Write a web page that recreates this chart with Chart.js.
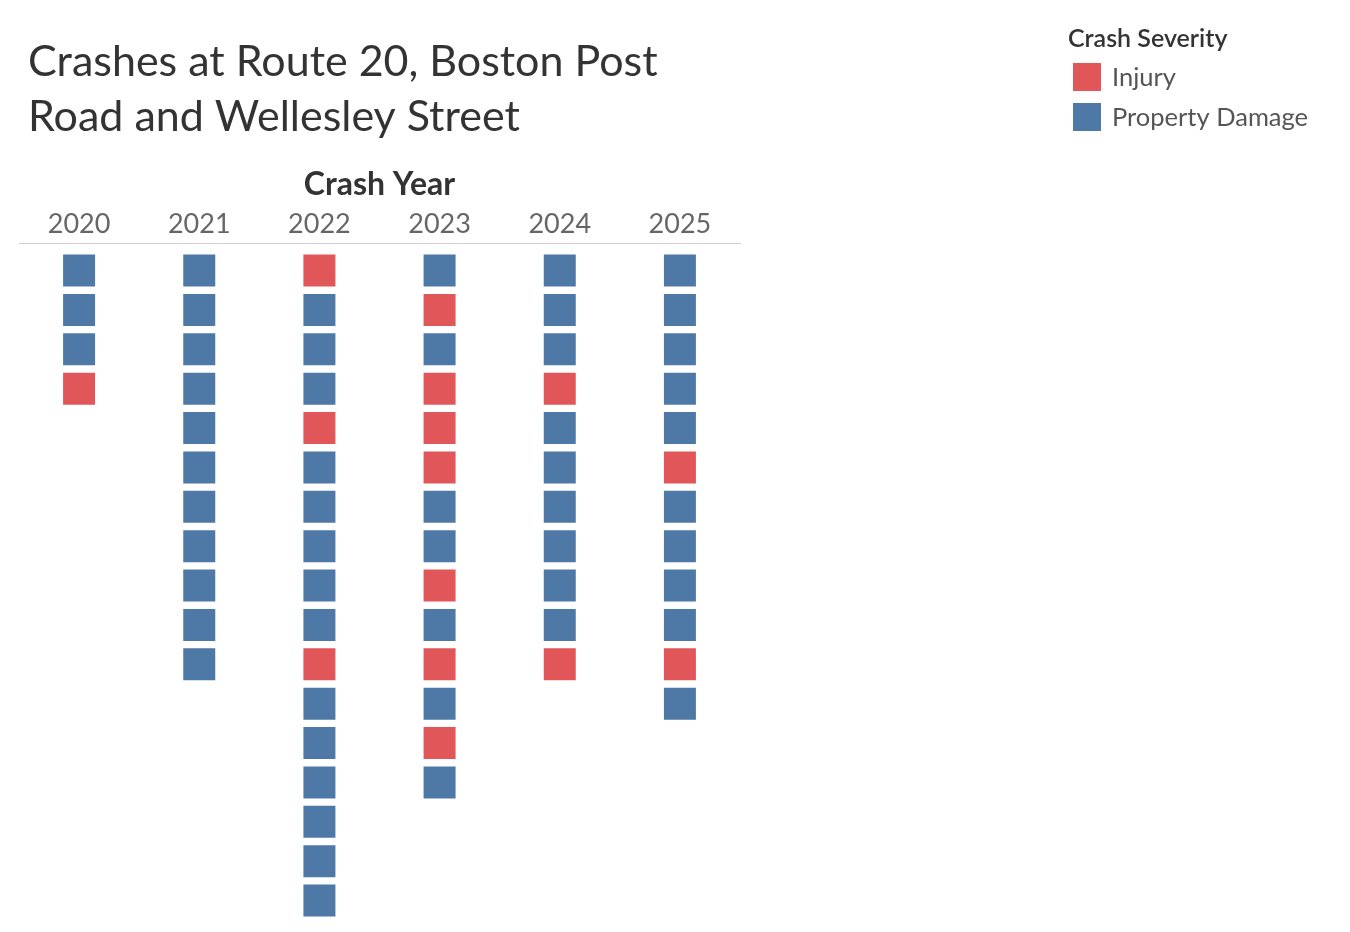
<!DOCTYPE html>
<html>
<head>
<meta charset="utf-8">
<title>Crashes at Route 20, Boston Post Road and Wellesley Street</title>
<script src="https://cdn.jsdelivr.net/npm/chart.js@4.4.1/dist/chart.umd.min.js"></script>
<style>
  html, body { margin: 0; padding: 0; background: #fff; }
  #wrap { position: relative; width: 1350px; height: 932px; }
</style>
</head>
<body>
<div id="wrap"><canvas id="chart"></canvas></div>
<script>
const titleLines = ["Crashes at Route 20, Boston Post", "Road and Wellesley Street"]
const years = ["2020", "2021", "2022", "2023", "2024", "2025"]

// one entry per crash, top to bottom: "I" = Injury, "P" = Property Damage
const crashes2020 = ["P", "P", "P", "I"]
const crashes2021 = ["P", "P", "P", "P", "P", "P", "P", "P", "P", "P", "P"]
const crashes2022 = ["I", "P", "P", "P", "I", "P", "P", "P", "P", "P", "I", "P", "P", "P", "P", "P", "P"]
const crashes2023 = ["P", "I", "P", "I", "I", "I", "P", "P", "I", "P", "I", "P", "I", "P"]
const crashes2024 = ["P", "P", "P", "I", "P", "P", "P", "P", "P", "P", "I"]
const crashes2025 = ["P", "P", "P", "P", "P", "I", "P", "P", "P", "P", "I", "P"]
const crashesByYear = [crashes2020, crashes2021, crashes2022, crashes2023, crashes2024, crashes2025]

const severityCodes = ["I", "P"]
const severityLabels = ["Injury", "Property Damage"]
const legendTitle = "Crash Severity"
const axisTitle = "Crash Year"

const colors = { I: "#e15759", P: "#4e79a7" }
const FONT = "Lato, 'Open Sans', sans-serif"

// a square marker with side 32px: rect point style draws side = radius * sqrt(2)
const squareRadius = 16 * Math.SQRT2

const datasets = severityCodes.map((code, i) => {
  const points = []
  crashesByYear.forEach((list, col) => {
    list.forEach((c, row) => {
      if (c === code) points.push({ x: years[col], y: row })
    })
  })
  return {
    label: severityLabels[i],
    data: points,
    backgroundColor: colors[code],
    borderWidth: 0,
    pointStyle: "rect",
    pointRadius: squareRadius,
    pointHoverRadius: squareRadius,
    pointHitRadius: 4
  }
})

// title and the colour legend, drawn in the free space around the grid
const headerPlugin = {
  id: "header",
  afterDraw(chart) {
    const ctx = chart.ctx
    ctx.save()
    ctx.textAlign = "left"
    ctx.textBaseline = "alphabetic"

    ctx.fillStyle = "#333333"
    ctx.font = `43px ${FONT}`
    ctx.fillText(titleLines[0], 28, 76)
    ctx.fillText(titleLines[1], 28, 131)

    ctx.font = `600 25px ${FONT}`
    ctx.fillStyle = "#333333"
    ctx.fillText(legendTitle, 1068, 47)

    chart.data.datasets.forEach((ds, i) => {
      const top = 63 + i * 40
      ctx.fillStyle = ds.backgroundColor
      ctx.fillRect(1073, top, 28, 28)
      ctx.fillStyle = "#555555"
      ctx.font = `25.5px ${FONT}`
      ctx.fillText(ds.label, 1112, top + 23)
    })
    ctx.restore()
  }
}

const chart = new Chart(document.getElementById("chart"), {
  type: "scatter",
  data: { datasets: datasets },
  options: {
    responsive: true,
    maintainAspectRatio: false,
    animation: false,
    layout: {
      autoPadding: false,
      padding: { left: 19, right: 610, top: 150, bottom: 0 }
    },
    plugins: {
      legend: { display: false },
      tooltip: {
        callbacks: {
          label: (context) => `${context.raw.x} — ${context.dataset.label}`
        }
      }
    },
    scales: {
      x: {
        type: "category",
        labels: years,
        offset: true,
        position: "top",
        grid: { display: false, drawTicks: false },
        border: { display: true, color: "#d0d0d0", width: 1 },
        ticks: {
          color: "#666666",
          padding: 3,
          font: { family: FONT, size: 27 }
        },
        title: {
          display: true,
          text: axisTitle,
          color: "#333333",
          padding: { top: 15, bottom: 0 },
          font: { family: FONT, size: 32, weight: "bold" }
        },
        afterFit: (scale) => { scale.height = 93 }
      },
      y: {
        type: "linear",
        display: false,
        reverse: true,
        min: -0.7,
        max: 16.8
      }
    }
  },
  plugins: [headerPlugin]
})
</script>
</body>
</html>
